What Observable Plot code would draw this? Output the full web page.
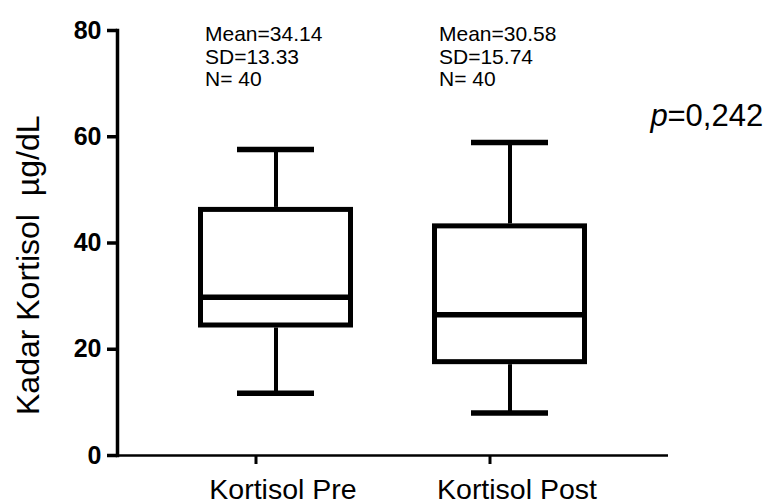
<!DOCTYPE html>
<html>
<head>
<meta charset="utf-8">
<script src="https://cdn.jsdelivr.net/npm/d3@7"></script>
<script src="https://cdn.jsdelivr.net/npm/@observablehq/plot@0.6"></script>
<style>
  html, body { margin: 0; padding: 0; background: #fff; }
  #chart { width: 769px; height: 504px; }
</style>
</head>
<body>
<div id="chart"></div>
<script>
// ---- data ----
const categories  = ["Kortisol Pre", "Kortisol Post"];
const whiskerLow  = [11.7, 8.0];
const quartile1   = [24.0, 17.1];
const medians     = [29.8, 26.5];
const quartile3   = [46.7, 43.6];
const whiskerHigh = [57.6, 58.9];
const means       = ["34.14", "30.58"];
const sds         = ["13.33", "15.74"];
const ns          = [40, 40];
const yTicks      = [0, 20, 40, 60, 80];
const yLabel      = "Kadar Kortisol  µg/dL";
const pValue      = "=0,242";

const rows = categories.map((c, i) => ({
  cat: c, lo: whiskerLow[i], q1: quartile1[i], med: medians[i],
  q3: quartile3[i], hi: whiskerHigh[i],
  note: `Mean=${means[i]}\nSD=${sds[i]}\nN= ${ns[i]}`
}));

const sans = "Liberation Sans, Arial, Helvetica, sans-serif";

const chart = Plot.plot({
  width: 769,
  height: 504,
  marginTop: 30,
  marginBottom: 49,
  marginLeft: 117,
  marginRight: 101,
  style: { background: "white", color: "black", fontFamily: sans },
  x: { type: "band", domain: categories, paddingInner: 0.338, paddingOuter: 0.346, align: 0.5 },
  y: { domain: [0, 80] },
  marks: [
    // whiskers
    Plot.ruleX(rows, { x: "cat", y1: "lo", y2: "q1", stroke: "black", strokeWidth: 4 }),
    Plot.ruleX(rows, { x: "cat", y1: "q3", y2: "hi", stroke: "black", strokeWidth: 4 }),
    // boxes
    Plot.barY(rows, { x: "cat", y1: "q1", y2: "q3", fill: "white", stroke: "black", strokeWidth: 5, inset: 2.5 }),
    // medians
    Plot.tickY(rows, { x: "cat", y: "med", stroke: "black", strokeWidth: 5.5, inset: 2.5 }),
    // caps
    Plot.tickY(rows, { x: "cat", y: "lo", stroke: "black", strokeWidth: 5.5, inset: 39 }),
    Plot.tickY(rows, { x: "cat", y: "hi", stroke: "black", strokeWidth: 5.5, inset: 39 }),
    // axes
    Plot.ruleY([0], { stroke: "black", strokeWidth: 2.5 }),
    Plot.frame({ anchor: "left", stroke: "black", strokeWidth: 3.5 }),
    Plot.axisY(yTicks, {
      tickSize: 10, strokeWidth: 3.5, tickPadding: 6, label: null,
      fontSize: 25, fontWeight: "bold", fontFamily: sans
    }),
    Plot.axisX({ text: null, tickSize: 9, strokeWidth: 3, dx: -20, label: null }),
    Plot.axisX({ tickSize: 0, tickPadding: 23, fontSize: 28.5, dx: 7, label: null, fontFamily: sans }),
    // y label
    Plot.text([yLabel], {
      frameAnchor: "left", rotate: -90, dx: -89, dy: 172,
      fontSize: 32, fontFamily: sans, fill: "black"
    }),
    // summary annotations
    Plot.text(rows, {
      x: "cat", text: "note", frameAnchor: "top", dx: -71, dy: -5,
      textAnchor: "start", lineAnchor: "top", lineHeight: 1.06,
      fontSize: 21, fontFamily: sans, fill: "black"
    }),
    // p value
    Plot.text(["p"], {
      frameAnchor: "top-right", dx: -18, dy: 95, textAnchor: "start", lineAnchor: "bottom",
      fontSize: 31, fontStyle: "italic", fontFamily: sans, fill: "black"
    }),
    Plot.text([pValue], {
      frameAnchor: "top-right", dx: -1, dy: 95, textAnchor: "start", lineAnchor: "bottom",
      fontSize: 31, fontFamily: sans, fill: "black"
    })
  ]
});
document.getElementById("chart").appendChild(chart);
</script>
</body>
</html>
